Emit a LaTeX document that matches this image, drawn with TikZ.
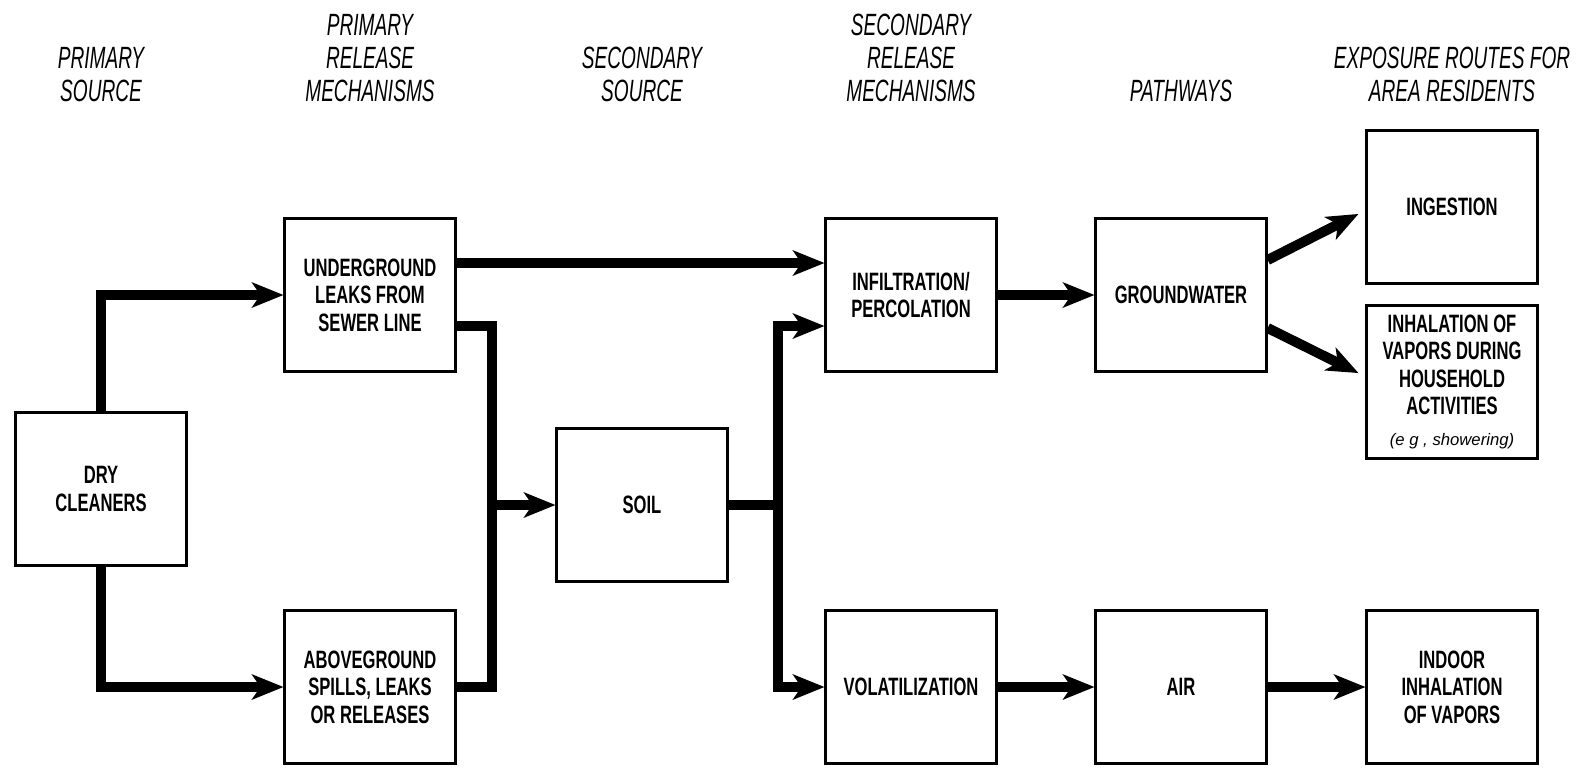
\documentclass[tikz,border=0pt]{standalone}
\usepackage{fontspec}
\setmainfont{Liberation Sans}
\newfontfamily\boxfont[FakeStretch=0.66]{Liberation Sans}
\newfontfamily\headfont[FakeStretch=0.62]{Liberation Sans}
\usetikzlibrary{arrows.meta, calc}

\begin{document}
\begin{tikzpicture}[
    x=0.02cm, y=-0.02cm,
    every node/.style={inner sep=0pt},
    stage/.style={anchor=south, align=center,
      font=\headfont\itshape\fontsize{17.5}{18.8}\selectfont},
    box/.style={draw, line width=1.3pt, minimum width=3.42cm, minimum height=3.06cm,
      align=center, font=\boxfont\bfseries\fontsize{14.3}{15.6}\selectfont},
    flow/.style={line width=0.2cm, line join=miter,
      -{Stealth[length=0.64cm, width=0.52cm, inset=0.18cm, line width=0pt]}},
    link/.style={line width=0.2cm, line join=miter},
  ]
    \useasboundingbox (0, 0) rectangle (1585, 769);

    % 各列标题
    \node[stage] (hsrc)   at (101, 102)  {PRIMARY\\SOURCE};
    \node[stage] (hrel)   at (370, 102)  {PRIMARY\\RELEASE\\MECHANISMS};
    \node[stage] (hsrc2)  at (642, 102)  {SECONDARY\\SOURCE};
    \node[stage] (hrel2)  at (911, 102)  {SECONDARY\\RELEASE\\MECHANISMS};
    \node[stage] (hpath)  at (1181, 102) {PATHWAYS};
    \node[stage] (hroute) at (1452, 102) {EXPOSURE ROUTES FOR\\AREA RESIDENTS};

    % 方框
    \node[box] (dry)    at (101, 489)  {DRY\\CLEANERS};
    \node[box] (under)  at (370, 295)  {UNDERGROUND\\LEAKS FROM\\SEWER LINE};
    \node[box] (above)  at (370, 687)  {ABOVEGROUND\\SPILLS, LEAKS\\OR RELEASES};
    \node[box] (soil)   at (642, 505)  {SOIL};
    \node[box] (infil)  at (911, 295)  {INFILTRATION/\\PERCOLATION};
    \node[box] (volat)  at (911, 687)  {VOLATILIZATION};
    \node[box] (gw)     at (1181, 295) {GROUNDWATER};
    \node[box] (air)    at (1181, 687) {AIR};
    \node[box] (ingest) at (1452, 207) {INGESTION};
    \node[box] (inhal)  at (1452, 382)
      {INHALATION OF\\VAPORS DURING\\HOUSEHOLD\\ACTIVITIES\\[2pt]
       {\rmfamily\mdseries\itshape\fontsize{9.5}{11}\selectfont (e g , showering)}};
    \node[box] (indoor) at (1452, 687) {INDOOR\\INHALATION\\OF VAPORS};

    % 汇合点
    \coordinate (merge) at ($(above.east)+(35,0)$);
    \coordinate (split) at ($(soil.east)+(49,0)$);

    % 一次释放
    \draw[flow] (dry.north) |- (under.west);
    \draw[flow] (dry.south) |- (above.west);

    % 进入土壤
    \draw[link] ($(under.east)+(0,31)$) -| (merge) -- (above.east);
    \draw[flow] (merge |- soil.west) -- (soil.west);

    % 二次释放
    \draw[flow] ($(under.east)+(0,-32)$) -- ($(infil.west)+(0,-32)$);
    \draw[link] (soil.east) -- (split);
    \draw[flow] (split) |- ($(infil.west)+(0,31)$);
    \draw[flow] (split) |- (volat.west);

    % 途径与暴露
    \draw[flow] (infil.east) -- (gw.west);
    \draw[flow] (volat.east) -- (air.west);
    \draw[flow] (air.east) -- (indoor.west);
    \draw[flow] ($(gw.east)+(0,-35)$) -- ($(ingest.west)+(-7,7)$);
    \draw[flow] ($(gw.east)+(0,33)$) -- ($(inhal.west)+(-7,-9)$);
  \end{tikzpicture}
\end{document}
